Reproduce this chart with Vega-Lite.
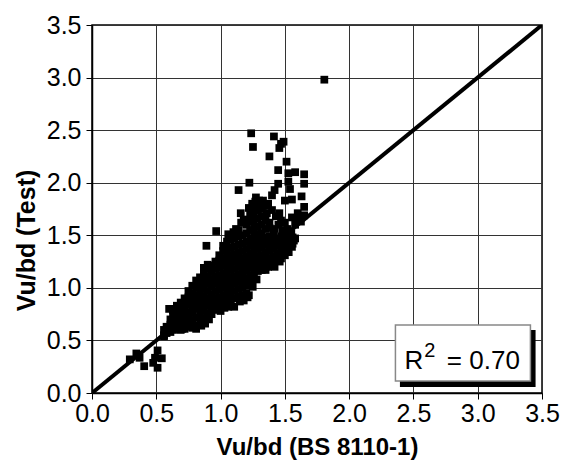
{
  "$schema": "https://vega.github.io/schema/vega-lite/v6.json",
  "width": 450,
  "height": 368,
  "autosize": {"type": "none"},
  "padding": {"left": 92, "top": 25, "right": 23, "bottom": 73},
  "background": "white",
  "config": {
    "view": {"stroke": "black", "strokeWidth": 1.5},
    "font": "Liberation Sans",
    "axis": {
      "labelFont": "Liberation Sans",
      "labelFontSize": 25,
      "labelColor": "black",
      "titleFont": "Liberation Sans",
      "titleFontSize": 24,
      "titleFontWeight": "bold",
      "titleColor": "black",
      "domainColor": "black",
      "domainWidth": 1.5,
      "tickColor": "black",
      "tickSize": 6,
      "gridColor": "#333333",
      "gridWidth": 1,
      "gridOpacity": 1
    }
  },
  "datasets": {
    "pts": [
      {"x": 1.807, "y": 2.98},
      {"x": 1.238, "y": 2.47}, {"x": 1.252, "y": 2.34}, {"x": 1.415, "y": 2.44}, {"x": 1.49, "y": 2.39},
      {"x": 1.457, "y": 2.33}, {"x": 1.47, "y": 2.37}, {"x": 1.38, "y": 2.25}, {"x": 1.513, "y": 2.2},
      {"x": 1.448, "y": 2.12}, {"x": 1.224, "y": 2.0}, {"x": 1.14, "y": 1.93}, {"x": 1.448, "y": 1.99},
      {"x": 1.42, "y": 1.93}, {"x": 1.4, "y": 1.88}, {"x": 1.527, "y": 2.09}, {"x": 1.58, "y": 2.1},
      {"x": 1.65, "y": 2.08}, {"x": 1.65, "y": 1.99}, {"x": 1.527, "y": 2.01}, {"x": 1.54, "y": 1.94},
      {"x": 1.63, "y": 1.87}, {"x": 1.5, "y": 1.83}, {"x": 1.555, "y": 1.84}, {"x": 1.65, "y": 1.77},
      {"x": 0.966, "y": 1.54}, {"x": 0.89, "y": 1.4}, {"x": 1.157, "y": 1.71}, {"x": 1.275, "y": 1.86},
      {"x": 1.3, "y": 1.83}, {"x": 1.246, "y": 1.8}, {"x": 1.32, "y": 1.75}, {"x": 1.37, "y": 1.8},
      {"x": 1.36, "y": 1.71}, {"x": 1.457, "y": 1.71}, {"x": 1.47, "y": 1.64}, {"x": 1.555, "y": 1.67},
      {"x": 1.6, "y": 1.71}, {"x": 1.625, "y": 1.63}, {"x": 1.65, "y": 1.69}, {"x": 1.06, "y": 1.51},
      {"x": 1.08, "y": 1.47}, {"x": 1.57, "y": 1.45}, {"x": 1.555, "y": 1.39}, {"x": 1.51, "y": 1.34},
      {"x": 1.37, "y": 1.2}, {"x": 1.3, "y": 1.18}, {"x": 1.21, "y": 0.91}, {"x": 1.106, "y": 0.82},
      {"x": 1.03, "y": 0.81}, {"x": 0.81, "y": 0.61}, {"x": 0.7, "y": 0.61}, {"x": 0.6, "y": 0.8},
      {"x": 0.294, "y": 0.32}, {"x": 0.345, "y": 0.376}, {"x": 0.37, "y": 0.335}, {"x": 0.406, "y": 0.255},
      {"x": 0.476, "y": 0.287}, {"x": 0.51, "y": 0.405}, {"x": 0.49, "y": 0.335}, {"x": 0.543, "y": 0.33},
      {"x": 0.51, "y": 0.24}, {"x": 0.588, "y": 0.59}, {"x": 0.56, "y": 0.54},
      {"x": 1.33, "y": 1.83}, {"x": 1.36, "y": 1.78}, {"x": 1.4, "y": 1.74}, {"x": 1.43, "y": 1.68},
      {"x": 1.38, "y": 1.62}, {"x": 1.45, "y": 1.6}, {"x": 1.5, "y": 1.62}, {"x": 1.52, "y": 1.56},
      {"x": 1.48, "y": 1.55}, {"x": 1.42, "y": 1.56}, {"x": 1.55, "y": 1.52}, {"x": 1.58, "y": 1.6},
      {"x": 1.6, "y": 1.65}, {"x": 1.62, "y": 1.68}, {"x": 1.3, "y": 1.8}, {"x": 1.27, "y": 1.82},
      {"x": 1.25, "y": 1.78}, {"x": 1.22, "y": 1.76}, {"x": 1.18, "y": 1.65}, {"x": 1.16, "y": 1.62},
      {"x": 1.12, "y": 1.56}, {"x": 1.1, "y": 1.53}, {"x": 1.33, "y": 1.78}, {"x": 1.58, "y": 1.47},
      {"x": 1.53, "y": 1.53}, {"x": 1.46, "y": 1.25}, {"x": 1.42, "y": 1.2}, {"x": 1.35, "y": 1.17},
      {"x": 1.25, "y": 1.01}, {"x": 1.28, "y": 1.08}, {"x": 1.18, "y": 0.88}, {"x": 1.22, "y": 0.93},
      {"x": 1.15, "y": 0.87}, {"x": 1.0, "y": 0.78}, {"x": 0.97, "y": 0.79}, {"x": 1.06, "y": 0.82},
      {"x": 0.93, "y": 0.75}, {"x": 0.85, "y": 0.64}, {"x": 0.88, "y": 0.66}, {"x": 0.91, "y": 0.7},
      {"x": 0.56, "y": 0.55}, {"x": 0.56, "y": 0.6},
      {"x": 0.58, "y": 0.57}, {"x": 0.58, "y": 0.63},
      {"x": 0.61, "y": 0.58}, {"x": 0.61, "y": 0.65}, {"x": 0.61, "y": 0.7},
      {"x": 0.63, "y": 0.6}, {"x": 0.63, "y": 0.67}, {"x": 0.63, "y": 0.74}, {"x": 0.63, "y": 0.79},
      {"x": 0.66, "y": 0.61}, {"x": 0.66, "y": 0.66}, {"x": 0.66, "y": 0.72}, {"x": 0.66, "y": 0.78}, {"x": 0.66, "y": 0.83},
      {"x": 0.69, "y": 0.6}, {"x": 0.69, "y": 0.68}, {"x": 0.69, "y": 0.75}, {"x": 0.69, "y": 0.81}, {"x": 0.69, "y": 0.86},
      {"x": 0.72, "y": 0.61}, {"x": 0.72, "y": 0.66}, {"x": 0.72, "y": 0.73}, {"x": 0.72, "y": 0.79}, {"x": 0.72, "y": 0.85}, {"x": 0.72, "y": 0.9},
      {"x": 0.75, "y": 0.63}, {"x": 0.75, "y": 0.7}, {"x": 0.75, "y": 0.77}, {"x": 0.75, "y": 0.84}, {"x": 0.75, "y": 0.91}, {"x": 0.75, "y": 0.97},
      {"x": 0.78, "y": 0.62}, {"x": 0.78, "y": 0.69}, {"x": 0.78, "y": 0.76}, {"x": 0.78, "y": 0.82}, {"x": 0.78, "y": 0.88}, {"x": 0.78, "y": 0.95}, {"x": 0.78, "y": 1.02},
      {"x": 0.81, "y": 0.64}, {"x": 0.81, "y": 0.72}, {"x": 0.81, "y": 0.8}, {"x": 0.81, "y": 0.87}, {"x": 0.81, "y": 0.93}, {"x": 0.81, "y": 1.0}, {"x": 0.81, "y": 1.07},
      {"x": 0.84, "y": 0.67}, {"x": 0.84, "y": 0.74}, {"x": 0.84, "y": 0.82}, {"x": 0.84, "y": 0.89}, {"x": 0.84, "y": 0.96}, {"x": 0.84, "y": 1.03}, {"x": 0.84, "y": 1.1},
      {"x": 0.87, "y": 0.71}, {"x": 0.87, "y": 0.78}, {"x": 0.87, "y": 0.85}, {"x": 0.87, "y": 0.92}, {"x": 0.87, "y": 0.99}, {"x": 0.87, "y": 1.06}, {"x": 0.87, "y": 1.13}, {"x": 0.87, "y": 1.19},
      {"x": 0.9, "y": 0.76}, {"x": 0.9, "y": 0.83}, {"x": 0.9, "y": 0.9}, {"x": 0.9, "y": 0.97}, {"x": 0.9, "y": 1.04}, {"x": 0.9, "y": 1.11}, {"x": 0.9, "y": 1.18}, {"x": 0.9, "y": 1.22},
      {"x": 0.93, "y": 0.8}, {"x": 0.93, "y": 0.87}, {"x": 0.93, "y": 0.94}, {"x": 0.93, "y": 1.01}, {"x": 0.93, "y": 1.08}, {"x": 0.93, "y": 1.15}, {"x": 0.93, "y": 1.21},
      {"x": 0.96, "y": 0.83}, {"x": 0.96, "y": 0.9}, {"x": 0.96, "y": 0.97}, {"x": 0.96, "y": 1.04}, {"x": 0.96, "y": 1.11}, {"x": 0.96, "y": 1.18}, {"x": 0.96, "y": 1.25},
      {"x": 0.99, "y": 0.84}, {"x": 0.99, "y": 0.91}, {"x": 0.99, "y": 0.98}, {"x": 0.99, "y": 1.05}, {"x": 0.99, "y": 1.12}, {"x": 0.99, "y": 1.19}, {"x": 0.99, "y": 1.26}, {"x": 0.99, "y": 1.31},
      {"x": 1.02, "y": 0.86}, {"x": 1.02, "y": 0.93}, {"x": 1.02, "y": 1.0}, {"x": 1.02, "y": 1.07}, {"x": 1.02, "y": 1.14}, {"x": 1.02, "y": 1.21}, {"x": 1.02, "y": 1.28}, {"x": 1.02, "y": 1.35}, {"x": 1.02, "y": 1.4},
      {"x": 1.05, "y": 0.87}, {"x": 1.05, "y": 0.94}, {"x": 1.05, "y": 1.01}, {"x": 1.05, "y": 1.08}, {"x": 1.05, "y": 1.15}, {"x": 1.05, "y": 1.22}, {"x": 1.05, "y": 1.29}, {"x": 1.05, "y": 1.36}, {"x": 1.05, "y": 1.44},
      {"x": 1.08, "y": 0.89}, {"x": 1.08, "y": 0.96}, {"x": 1.08, "y": 1.03}, {"x": 1.08, "y": 1.1}, {"x": 1.08, "y": 1.17}, {"x": 1.08, "y": 1.24}, {"x": 1.08, "y": 1.31}, {"x": 1.08, "y": 1.38}, {"x": 1.08, "y": 1.46},
      {"x": 1.11, "y": 0.9}, {"x": 1.11, "y": 0.97}, {"x": 1.11, "y": 1.04}, {"x": 1.11, "y": 1.11}, {"x": 1.11, "y": 1.18}, {"x": 1.11, "y": 1.25}, {"x": 1.11, "y": 1.32}, {"x": 1.11, "y": 1.39}, {"x": 1.11, "y": 1.47},
      {"x": 1.14, "y": 0.92}, {"x": 1.14, "y": 0.99}, {"x": 1.14, "y": 1.06}, {"x": 1.14, "y": 1.13}, {"x": 1.14, "y": 1.2}, {"x": 1.14, "y": 1.27}, {"x": 1.14, "y": 1.34}, {"x": 1.14, "y": 1.41}, {"x": 1.14, "y": 1.49}, {"x": 1.14, "y": 1.55},
      {"x": 1.17, "y": 0.93}, {"x": 1.17, "y": 1.0}, {"x": 1.17, "y": 1.07}, {"x": 1.17, "y": 1.14}, {"x": 1.17, "y": 1.21}, {"x": 1.17, "y": 1.28}, {"x": 1.17, "y": 1.35}, {"x": 1.17, "y": 1.42}, {"x": 1.17, "y": 1.5},
      {"x": 1.2, "y": 0.95}, {"x": 1.2, "y": 1.02}, {"x": 1.2, "y": 1.09}, {"x": 1.2, "y": 1.16}, {"x": 1.2, "y": 1.23}, {"x": 1.2, "y": 1.3}, {"x": 1.2, "y": 1.37}, {"x": 1.2, "y": 1.44}, {"x": 1.2, "y": 1.52}, {"x": 1.2, "y": 1.6},
      {"x": 1.23, "y": 1.05}, {"x": 1.23, "y": 1.12}, {"x": 1.23, "y": 1.19}, {"x": 1.23, "y": 1.26}, {"x": 1.23, "y": 1.33}, {"x": 1.23, "y": 1.4}, {"x": 1.23, "y": 1.47}, {"x": 1.23, "y": 1.55}, {"x": 1.23, "y": 1.63}, {"x": 1.23, "y": 1.7},
      {"x": 1.26, "y": 1.1}, {"x": 1.26, "y": 1.17}, {"x": 1.26, "y": 1.24}, {"x": 1.26, "y": 1.31}, {"x": 1.26, "y": 1.38}, {"x": 1.26, "y": 1.45}, {"x": 1.26, "y": 1.52}, {"x": 1.26, "y": 1.6}, {"x": 1.26, "y": 1.68}, {"x": 1.26, "y": 1.75},
      {"x": 1.29, "y": 1.16}, {"x": 1.29, "y": 1.23}, {"x": 1.29, "y": 1.3}, {"x": 1.29, "y": 1.37}, {"x": 1.29, "y": 1.44}, {"x": 1.29, "y": 1.51}, {"x": 1.29, "y": 1.58}, {"x": 1.29, "y": 1.66}, {"x": 1.29, "y": 1.74},
      {"x": 1.32, "y": 1.17}, {"x": 1.32, "y": 1.24}, {"x": 1.32, "y": 1.31}, {"x": 1.32, "y": 1.38}, {"x": 1.32, "y": 1.45}, {"x": 1.32, "y": 1.52}, {"x": 1.32, "y": 1.6}, {"x": 1.32, "y": 1.68},
      {"x": 1.35, "y": 1.2}, {"x": 1.35, "y": 1.27}, {"x": 1.35, "y": 1.34}, {"x": 1.35, "y": 1.41}, {"x": 1.35, "y": 1.48}, {"x": 1.35, "y": 1.56}, {"x": 1.35, "y": 1.64},
      {"x": 1.38, "y": 1.21}, {"x": 1.38, "y": 1.28}, {"x": 1.38, "y": 1.35}, {"x": 1.38, "y": 1.42}, {"x": 1.38, "y": 1.49}, {"x": 1.38, "y": 1.57},
      {"x": 1.41, "y": 1.23}, {"x": 1.41, "y": 1.3}, {"x": 1.41, "y": 1.37}, {"x": 1.41, "y": 1.44}, {"x": 1.41, "y": 1.51},
      {"x": 1.44, "y": 1.26}, {"x": 1.44, "y": 1.33}, {"x": 1.44, "y": 1.4}, {"x": 1.44, "y": 1.47},
      {"x": 1.47, "y": 1.28}, {"x": 1.47, "y": 1.35}, {"x": 1.47, "y": 1.42}, {"x": 1.47, "y": 1.49},
      {"x": 1.5, "y": 1.31}, {"x": 1.5, "y": 1.38}, {"x": 1.5, "y": 1.45},
      {"x": 1.53, "y": 1.34}, {"x": 1.53, "y": 1.41}, {"x": 1.53, "y": 1.48},
      {"x": 1.56, "y": 1.42}, {"x": 1.56, "y": 1.48}
    ],
    "diag": [{"x": 0, "y": 0}, {"x": 3.5, "y": 3.5}],
    "shadow": [{"x": 2.395, "x2": 3.45, "y": 0.057, "y2": 0.6}],
    "box": [{"x": 2.36, "x2": 3.41, "y": 0.114, "y2": 0.647}],
    "txt": [
      {"x": 2.43, "y": 0.228, "t": "R"},
      {"x": 2.76, "y": 0.228, "t": "= 0.70"}
    ],
    "sup": [{"x": 2.585, "y": 0.34, "t": "2"}]
  },
  "layer": [
    {
      "data": {"name": "pts"},
      "mark": {"type": "point", "shape": "square", "filled": true, "color": "black", "opacity": 1, "size": 60},
      "encoding": {
        "x": {"field": "x", "type": "quantitative", "scale": {"domain": [0, 3.5], "nice": false},
          "axis": {"title": "Vu/bd (BS 8110-1)", "values": [0, 0.5, 1, 1.5, 2, 2.5, 3, 3.5], "format": ".1f", "labelPadding": 2, "titlePadding": 9, "labelFlush": false}},
        "y": {"field": "y", "type": "quantitative", "scale": {"domain": [0, 3.5], "nice": false},
          "axis": {"title": "Vu/bd (Test)", "titleFontSize": 25, "titleY": 215, "values": [0, 0.5, 1, 1.5, 2, 2.5, 3, 3.5], "format": ".1f", "labelPadding": 5, "titlePadding": 7, "labelFlush": false}}
      }
    },
    {
      "data": {"name": "diag"},
      "mark": {"type": "line", "color": "black", "strokeWidth": 4, "clip": true},
      "encoding": {
        "x": {"field": "x", "type": "quantitative"},
        "y": {"field": "y", "type": "quantitative"}
      }
    },
    {
      "data": {"name": "shadow"},
      "mark": {"type": "rect", "color": "black"},
      "encoding": {
        "x": {"field": "x", "type": "quantitative"},
        "x2": {"field": "x2"},
        "y": {"field": "y", "type": "quantitative"},
        "y2": {"field": "y2"}
      }
    },
    {
      "data": {"name": "box"},
      "mark": {"type": "rect", "fill": "white", "stroke": "#888888", "strokeWidth": 1.5},
      "encoding": {
        "x": {"field": "x", "type": "quantitative"},
        "x2": {"field": "x2"},
        "y": {"field": "y", "type": "quantitative"},
        "y2": {"field": "y2"}
      }
    },
    {
      "data": {"name": "txt"},
      "mark": {"type": "text", "align": "left", "baseline": "alphabetic", "fontSize": 26, "font": "Liberation Sans", "color": "black"},
      "encoding": {
        "x": {"field": "x", "type": "quantitative"},
        "y": {"field": "y", "type": "quantitative"},
        "text": {"field": "t"}
      }
    },
    {
      "data": {"name": "sup"},
      "mark": {"type": "text", "align": "left", "baseline": "alphabetic", "fontSize": 20, "font": "Liberation Sans", "color": "black"},
      "encoding": {
        "x": {"field": "x", "type": "quantitative"},
        "y": {"field": "y", "type": "quantitative"},
        "text": {"field": "t"}
      }
    }
  ]
}
